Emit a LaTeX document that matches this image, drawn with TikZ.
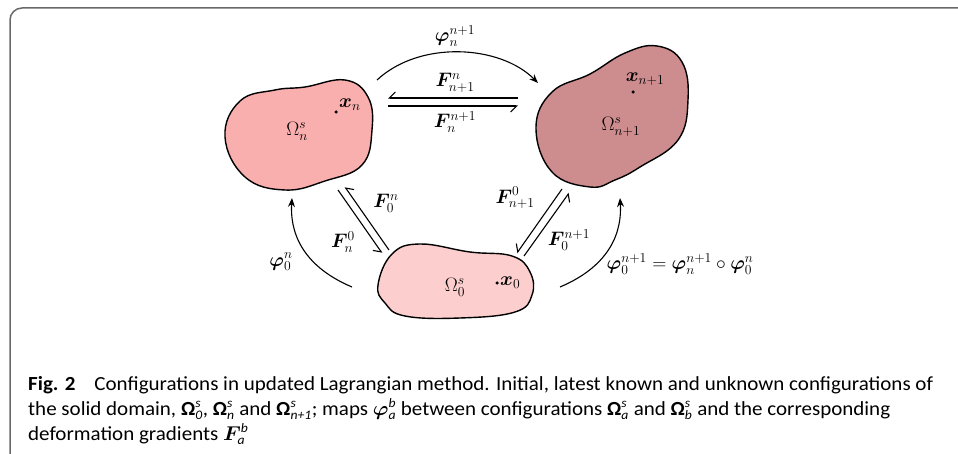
\RequirePackage{fix-cm}
\documentclass[tikz,border=0pt]{standalone}
\usepackage{fontspec}
\usepackage{bm}
\usepackage{graphicx}
\setmainfont{Carlito}
\usetikzlibrary{arrows.meta}
\definecolor{blobN}{RGB}{250,175,175}
\definecolor{blobNN}{RGB}{205,140,142}
\definecolor{blobZ}{RGB}{253,206,206}
\definecolor{framegray}{RGB}{105,105,105}
\newcommand\cOm[1]{$\textbf{Ω}^{\mbox{\fontsize{13}{13}\selectfont\itshape s}}_{\mbox{\fontsize{13}{13}\selectfont\itshape #1}}$}
\newcommand\cSub[1]{\mbox{\fontsize{13}{13}\selectfont\itshape #1}}
\newcommand\capLineA{\textbf{Fig. 2}\hspace{0.9em}Configurations in updated Lagrangian method. Initial, latest known and unknown configurations of}
\newcommand\capLineB{the solid domain, \cOm{0}, \cOm{n} and \cOm{n+1}; maps $\bm{\varphi}^{\cSub{b}}_{\cSub{a}}$ between configurations \cOm{a} and \cOm{b} and the corresponding}
\newcommand\capLineC{deformation gradients $\bm{F}^{\cSub{b}}_{\cSub{a}}$}
\newsavebox\capboxA
\begin{document}
\sbox\capboxA{\fontsize{20}{24}\selectfont\capLineA}%
\pgfmathsetmacro\capfac{905/(\wd\capboxA)}%
\begin{tikzpicture}[x=1pt,y=-1pt,
  blob/.style={draw=black,line width=1.4pt},
  lab/.style={inner sep=0pt,font=\fontsize{19.5}{22}\selectfont},
  harp/.style={line width=1.1pt,-{Straight Barb[right,length=6pt,width=12pt]}},
  maparrow/.style={line width=1.1pt,-{Stealth[length=9pt,width=7pt]}},
  capline/.style={anchor=base west,inner sep=0pt,font=\fontsize{20}{24}\selectfont},
  pt/.style={circle,fill=black,inner sep=0pt,minimum size=3.5pt}]
\useasboundingbox (0,0) rectangle (958,454);
% frame
\draw[framegray,line width=1.5pt,rounded corners=12pt] (970,8) -- (10,8) -- (10,470);
% blobs
\draw[blob,fill=blobN] plot[smooth cycle,tension=0.7] coordinates {
 (225,137) (240,101) (275,90) (305,87) (345,80) (368,97) (372,130) (362,165) (325,181) (285,190) (245,177)};
\draw[blob,fill=blobNN] plot[smooth cycle,tension=0.7] coordinates {
 (536,128) (552,92) (590,74) (625,53) (657,46) (682,62) (688,100) (678,140) (640,167) (615,180) (590,187) (552,172)};
\draw[blob,fill=blobZ] plot[smooth cycle,tension=0.7] coordinates {
 (378,285) (392,254) (420,244) (470,252) (512,256) (530,272) (532,295) (515,312) (460,318) (405,316) (385,303)};
% region labels
\node[lab] (omn) at (297,131) {$\Omega^s_n$};
\node[lab] (omnn) at (621,127) {$\Omega^s_{n+1}$};
\node[lab] (om0) at (455,287) {$\Omega^s_0$};
\node[pt] (pn) at (336,112) {};
\node[lab,anchor=west] (xn) at (339,105) {$\bm{x}_n$};
\node[pt] (pnn) at (633,92) {};
\node[lab] (xnn) at (645,79) {$\bm{x}_{n+1}$};
\node[pt] (p0) at (497,283) {};
\node[lab,anchor=west] (x0) at (500,283) {$\bm{x}_0$};
% endpoints
\coordinate (tA) at (377,80);
\coordinate (tB) at (538,83);
\coordinate (hU1) at (518,98);
\coordinate (hU2) at (388,98);
\coordinate (hL1) at (388,106);
\coordinate (hL2) at (518,106);
\coordinate (lA1) at (338,190);
\coordinate (lA2) at (382,253);
\coordinate (lB1) at (389,250);
\coordinate (lB2) at (345,187);
\coordinate (rC1) at (562,189);
\coordinate (rC2) at (517,253);
\coordinate (rD1) at (524,256);
\coordinate (rD2) at (569,193);
\coordinate (aL1) at (352,287);
\coordinate (aL2) at (292,198);
\coordinate (aR1) at (560,287);
\coordinate (aR2) at (620,198);
% arrows
\draw[maparrow] (tA) .. controls (420,40) and (500,45) .. (tB);
\draw[harp] (hU1) -- (hU2);
\draw[harp] (hL1) -- (hL2);
\draw[harp] (lA1) -- (lA2);
\draw[harp] (lB1) -- (lB2);
\draw[harp] (rC1) -- (rC2);
\draw[harp] (rD1) -- (rD2);
\draw[maparrow] (aL1) .. controls (300,265) and (290,230) .. (aL2);
\draw[maparrow] (aR1) .. controls (612,265) and (622,230) .. (aR2);
% arrow labels
\node[lab] (ltop) at (455,36) {$\bm{\varphi}^{n+1}_n$};
\node[lab] (lhu) at (455,83) {$\bm{F}^{n}_{n+1}$};
\node[lab] (lhl) at (455,122) {$\bm{F}^{n+1}_{n}$};
\node[lab] (lf0n) at (386,203) {$\bm{F}^{n}_{0}$};
\node[lab] (lfn0) at (343,242) {$\bm{F}^{0}_{n}$};
\node[lab] (lfnn0) at (515,198) {$\bm{F}^{0}_{n+1}$};
\node[lab] (lf0nn) at (569,240) {$\bm{F}^{n+1}_{0}$};
\node[lab] (lphl) at (281,262) {$\bm{\varphi}^{n}_0$};
\node[lab] (lphr) at (680,264) {$\bm{\varphi}^{n+1}_0=\bm{\varphi}^{n+1}_n\circ\bm{\varphi}^{n}_0$};
% caption
\node[capline] (c1) at (28,390) {\scalebox{\capfac}[1]{\capLineA}};
\node[capline] (c2) at (28,415) {\scalebox{\capfac}[1]{\capLineB}};
\node[capline] (c3) at (28,440) {\scalebox{\capfac}[1]{\capLineC}};
\end{tikzpicture}
\end{document}
